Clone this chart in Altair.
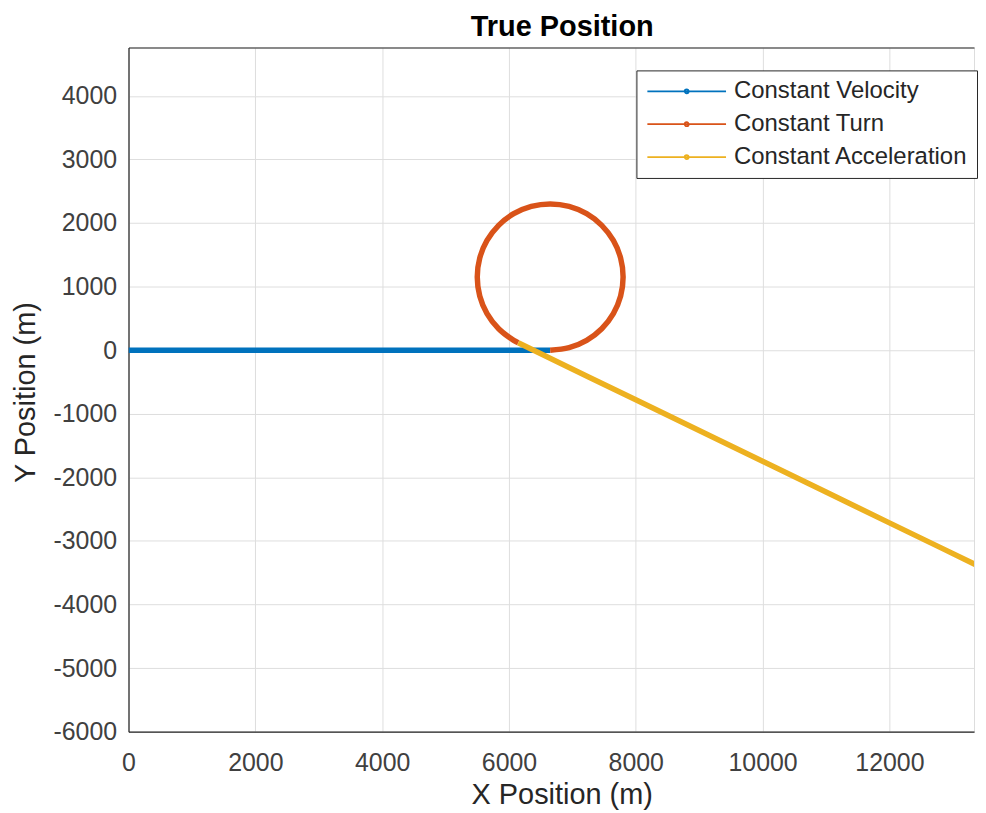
import altair as alt
import pandas as pd

series_names = ["Constant Velocity", "Constant Turn", "Constant Acceleration"]
series_colors = ["#0072BD", "#D95319", "#EDB120"]

cv_x = [0, 1000, 2000, 3000, 4000, 5000, 6000, 6650]
cv_y = [0, 0, 0, 0, 0, 0, 0, 0]

ct_x = [6650, 6948, 7225, 7463, 7646, 7761, 7800, 7761, 7646, 7463, 7225, 6948,
        6650, 6352, 6075, 5837, 5654, 5539, 5500, 5539, 5654, 5837, 6075, 6146]
ct_y = [0, 39, 154, 337, 575, 852, 1150, 1448, 1725, 1963, 2146, 2261,
        2300, 2261, 2146, 1963, 1725, 1448, 1150, 852, 575, 337, 154, 116]

ca_x = [6146, 8000, 10000, 12000, 14000]
ca_y = [116, -781, -1748, -2716, -3683]

x_ticks = [0, 2000, 4000, 6000, 8000, 10000, 12000]
y_ticks = [-6000, -5000, -4000, -3000, -2000, -1000, 0, 1000, 2000, 3000, 4000]

rows = []
i = 0
for name, xs, ys in zip(series_names, [cv_x, ct_x, ca_x], [cv_y, ct_y, ca_y]):
    for xv, yv in zip(xs, ys):
        rows.append({"series": name, "x": xv, "y": yv, "idx": i})
        i += 1
df = pd.DataFrame(rows)

FONT = "Liberation Sans"
AX = "#262626"
GRID = "#dedede"
LABEL_EXPR = "'' + datum.value"

xscale = alt.Scale(domain=[0, 13334], nice=False, zero=False)
yscale = alt.Scale(domain=[-6000, 4760], nice=False, zero=False)

legend_path = "M-1,0L6.9,0M2.75,0A0.2,0.2,0,1,0,3.15,0A0.2,0.2,0,1,0,2.75,0"

lines = alt.Chart(df).mark_line(strokeWidth=5.5, clip=True, interpolate="catmull-rom").encode(
    x=alt.X("x:Q", scale=xscale, axis=alt.Axis(
        values=x_ticks, grid=True, gridColor=GRID, gridWidth=1, ticks=False,
        domainColor=AX, domainWidth=1.2, labelColor="#404040", labelFontSize=25,
        labelFont=FONT, labelPadding=19, labelFlush=False, labelExpr=LABEL_EXPR,
        title="X Position (m)", titleFont=FONT, titleFontSize=29,
        titleFontWeight="normal", titleColor="#262626",
        titleX=435, titleY=72, titleBaseline="alphabetic", titleAlign="center")),
    y=alt.Y("y:Q", scale=yscale, axis=alt.Axis(
        values=y_ticks, grid=True, gridColor=GRID, gridWidth=1, ticks=False,
        domainColor=AX, domainWidth=1.2, labelColor="#404040", labelFontSize=25,
        labelFont=FONT, labelPadding=12, labelFlush=False, labelExpr=LABEL_EXPR,
        title="Y Position (m)", titleFont=FONT, titleFontSize=29,
        titleFontWeight="normal", titleColor="#262626",
        titleX=-94, titleY=346, titleBaseline="alphabetic", titleAlign="center",
        titleAngle=270)),
    color=alt.Color("series:N", scale=alt.Scale(domain=series_names, range=series_colors),
                    legend=alt.Legend(
                        title=None, orient="none", legendX=510, legendY=23,
                        symbolType=legend_path, symbolSize=400, symbolStrokeWidth=1.8,
                        labelFontSize=24, labelFont=FONT, labelColor="#262626",
                        labelLimit=500, labelOffset=65, padding=9, rowPadding=9,
                        strokeColor=AX, fillColor="white")),
    order="idx:Q",
)

top_axis = alt.Chart(df[df["series"] == "Constant Velocity"]).mark_point(opacity=0, clip=True).encode(
    x=alt.X("x:Q", scale=xscale, axis=alt.Axis(
        orient="top", labels=False, ticks=False, grid=False, title=None,
        domainColor=AX, domainWidth=1.2, minExtent=0, maxExtent=0)),
    y=alt.Y("y:Q", scale=yscale),
)

chart = alt.layer(lines, top_axis).resolve_axis(x="independent").properties(
    width=849, height=687,
    padding={"left": 4, "top": 3, "right": 0, "bottom": 0},
    title=alt.TitleParams("True Position", font=FONT, fontSize=29, fontWeight="bold",
                          color="#000000", anchor="middle", frame="group",
                          offset=-17, baseline="alphabetic", dx=11),
).configure_view(stroke=None).configure(font=FONT)

chart.save("out.html", embed_options={"renderer": "svg", "actions": False})
